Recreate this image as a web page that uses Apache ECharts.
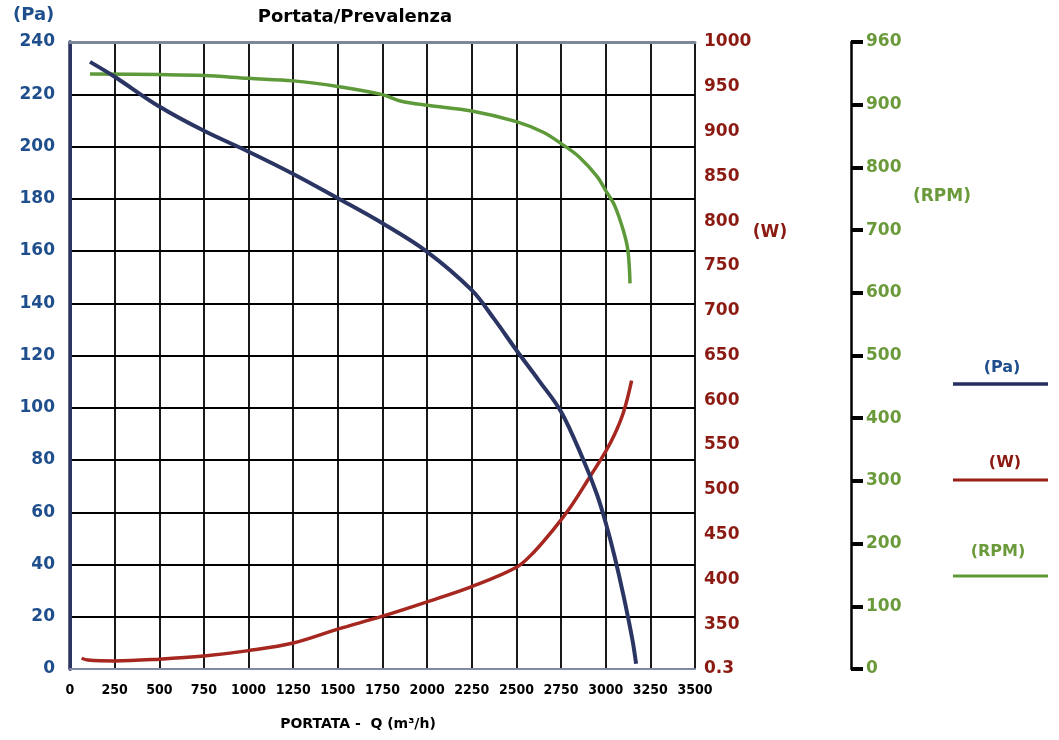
<!DOCTYPE html>
<html>
<head>
<meta charset="utf-8">
<script src="https://cdn.jsdelivr.net/npm/echarts@6/dist/echarts.min.js"></script>
<style>
html,body{margin:0;padding:0;background:#fff;}
#c{width:1059px;height:740px;}
</style>
</head>
<body>
<div id="c"></div>
<script>
// ---- data ----
const xTickValues = [0,250,500,750,1000,1250,1500,1750,2000,2250,2500,2750,3000,3250,3500];
const paTickLabels = ['0','20','40','60','80','100','120','140','160','180','200','220','240'];
const wTickLabels = ['0.3','350','400','450','500','550','600','650','700','750','800','850','900','950','1000'];
const rpmTickLabels = ['0','100','200','300','400','500','600','700','800','900','960'];

const paData = [[112,232.4],[250,226.7],[500,215.3],[750,206],[1000,198],[1250,189.5],[1500,180.2],[1750,170.6],[2000,159.7],[2250,145],[2375,134],[2500,122],[2625,110.5],[2750,98.5],[2875,80],[2950,67],[3000,56],[3050,43],[3100,28],[3150,11],[3170,2]];
const wData = [[65,312],[100,310],[250,309],[500,311],[750,314.5],[1000,320.5],[1250,329],[1500,344.5],[1750,359],[2000,375],[2250,392],[2500,413.5],[2600,431],[2700,454],[2800,480],[2900,511],[3000,543],[3050,562],[3100,587],[3145,622]];
const rpmData = [[112,949],[500,948],[750,946.5],[1000,942],[1250,938],[1500,929],[1750,916],[1850,906],[2000,899],[2250,890],[2500,873],[2650,856],[2750,838],[2850,817],[2950,786],[3000,763],[3050,739],[3100,698],[3125,666],[3136,615]];

const BLUE = '#1F4E8C', RED = '#8B1A12', GREEN = '#6A9A3A';
const NAVY = '#2B3560';
const F = 'DejaVu Sans';

const chart = echarts.init(document.getElementById('c'), null, {renderer:'canvas'});
chart.setOption({
  animation:false,
  backgroundColor:'#fff',
  grid:{left:70, right:364, top:42, bottom:71, show:false},
  xAxis:[{
    type:'value', min:0, max:3500, interval:250,
    axisLine:{show:true, lineStyle:{color:'#8088A8', width:2}},
    axisTick:{show:false},
    splitLine:{show:true, lineStyle:{color:'#000', width:1.8}},
    axisLabel:{color:'#000', fontFamily:'DejaVu Sans Condensed', fontWeight:'bold', fontSize:14, margin:14,
      formatter:(v)=> xTickValues.indexOf(v) >= 0 ? String(v) : ''}
  },{
    type:'value', min:0, max:3500, position:'top',
    axisLine:{show:true, onZero:false, lineStyle:{color:'#7E8699', width:3}},
    axisTick:{show:false}, axisLabel:{show:false}, splitLine:{show:false}
  }],
  yAxis:[{
    type:'value', min:0, max:240, interval:20, position:'left',
    axisLine:{show:true, lineStyle:{color:NAVY, width:3.5}},
    axisTick:{show:false},
    splitLine:{show:true, lineStyle:{color:'#000', width:1.8}},
    axisLabel:{color:BLUE, fontFamily:F, fontWeight:'bold', fontSize:17, margin:15,
      formatter:(v)=> paTickLabels[Math.round(v/20)]}
  },{
    type:'value', min:300, max:1000, interval:50, position:'right',
    axisLine:{show:true, lineStyle:{color:NAVY, width:3}},
    axisTick:{show:false}, splitLine:{show:false},
    axisLabel:{color:RED, fontFamily:F, fontWeight:'bold', fontSize:17, margin:9,
      formatter:(v)=> wTickLabels[Math.round((v-300)/50)]}
  },{
    type:'value', min:0, max:1000, interval:100, position:'right', offset:156,
    axisLine:{show:true, lineStyle:{color:'#000', width:2.5}},
    axisTick:{show:true, length:12, lineStyle:{color:'#000', width:4}},
    splitLine:{show:false},
    axisLabel:{color:GREEN, fontFamily:F, fontWeight:'bold', fontSize:17, margin:15,
      formatter:(v)=> rpmTickLabels[Math.round(v/100)]}
  }],
  series:[
    {type:'line', name:'(RPM)', yAxisIndex:2, data:rpmData, smooth:0.35, showSymbol:false,
      lineStyle:{color:'#5E9A3A', width:3.5}, z:3},
    {type:'line', name:'(W)', yAxisIndex:1, data:wData, smooth:0.35, showSymbol:false,
      lineStyle:{color:'#A62620', width:3.5}, z:4},
    {type:'line', name:'(Pa)', yAxisIndex:0, data:paData, smooth:0.35, showSymbol:false,
      lineStyle:{color:'#2B3563', width:4}, z:5}
  ],
  graphic:[
    {type:'text', left:13, top:6, style:{text:'(Pa)', fill:BLUE, font:'bold 18px "DejaVu Sans"'}},
    {type:'text', x:355, y:17, style:{text:'Portata/Prevalenza', fill:'#000', font:'bold 18px "DejaVu Sans"', textAlign:'center', textVerticalAlign:'middle'}},
    {type:'text', x:770, y:233, style:{text:'(W)', fill:RED, font:'bold 17px "DejaVu Sans"', textAlign:'center', textVerticalAlign:'middle'}},
    {type:'text', x:942, y:197, style:{text:'(RPM)', fill:GREEN, font:'bold 17px "DejaVu Sans"', textAlign:'center', textVerticalAlign:'middle'}},
    {type:'text', x:358, y:724, style:{text:'PORTATA -  Q (m³/h)', fill:'#000', font:'bold 14px "DejaVu Sans"', textAlign:'center', textVerticalAlign:'middle'}},
    // legend
    {type:'text', x:1002, y:368, style:{text:'(Pa)', fill:BLUE, font:'bold 16px "DejaVu Sans"', textAlign:'center', textVerticalAlign:'middle'}},
    {type:'line', shape:{x1:953, y1:384, x2:1048, y2:384}, style:{stroke:'#253060', lineWidth:3.5}},
    {type:'text', x:1005, y:463, style:{text:'(W)', fill:RED, font:'bold 16px "DejaVu Sans"', textAlign:'center', textVerticalAlign:'middle'}},
    {type:'line', shape:{x1:953, y1:480, x2:1048, y2:480}, style:{stroke:'#9A1E18', lineWidth:3}},
    {type:'text', x:998, y:552, style:{text:'(RPM)', fill:GREEN, font:'bold 16px "DejaVu Sans"', textAlign:'center', textVerticalAlign:'middle'}},
    {type:'line', shape:{x1:953, y1:576, x2:1048, y2:576}, style:{stroke:'#5E9A3A', lineWidth:3}}
  ]
});
</script>
</body>
</html>
